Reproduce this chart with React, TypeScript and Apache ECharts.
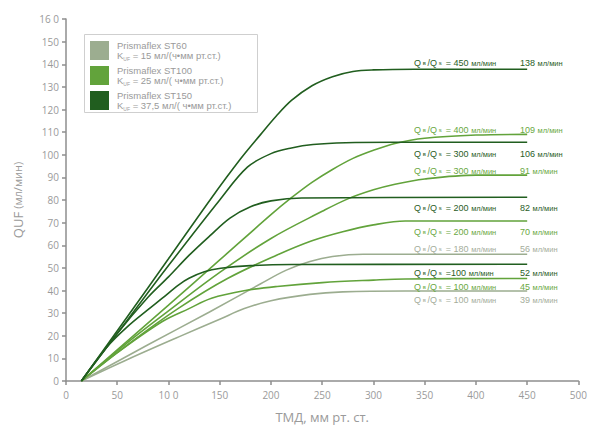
import React, { useEffect, useRef } from 'react';
import * as echarts from 'echarts';

// ---- data ----
const modelNames = ['Prismaflex ST60', 'Prismaflex ST100', 'Prismaflex ST150'];
const kufTexts = ['15 мл/(ч•мм рт.ст.)', '25 мл/( ч•мм рт.ст.)', '37,5 мл/( ч•мм рт.ст.)'];

const xTickLabels = ['0', '50', '10 0', '150', '200', '250', '300', '350', '400', '450', '500'];
const yTickLabels = ['0', '10', '20', '30', '40', '50', '60', '70', '80', '90', '100', '110', '120', '130', '140', '150', '16 0'];

// [TMD, QUF]
const st150_450 = [[15, 0], [60, 28.5], [100, 54], [141.6, 80.7], [170, 98], [190, 109], [205, 117], [220, 124], [240, 130.5], [260, 134.5], [280, 136.8], [300, 137.5], [340, 137.8], [450, 137.8]];
const st150_300 = [[15, 0], [60, 27], [100, 51], [150, 80], [177, 94.5], [200, 100.5], [220, 103], [241, 104.5], [273, 105.3], [320, 105.5], [450, 105.5]];
const st150_200 = [[15, 0], [50, 21], [80, 37], [100, 46], [120, 55.5], [140, 64], [160, 72], [180, 77], [200, 79.6], [230, 80.9], [450, 81.2]];
const st150_100 = [[15, 0], [40, 15], [60, 24], [80, 31.5], [94, 36.6], [110, 42.5], [120, 45.4], [135, 48.3], [151, 49.8], [180, 51], [220, 51.5], [450, 51.6]];
const st100_400 = [[15, 0], [100, 33.5], [150, 53.5], [200, 73.5], [220, 81], [240, 87.8], [260, 93.5], [280, 98.4], [300, 102], [321, 105], [350, 107.3], [400, 108.7], [450, 109]];
const st100_300 = [[15, 0], [60, 17], [100, 31], [150, 48], [200, 63], [250, 75], [275, 80.5], [300, 84.5], [321, 87], [350, 89.3], [400, 91], [450, 91]];
const st100_200 = [[15, 0], [60, 16], [110, 32.2], [158, 45.4], [206, 55.7], [240, 62], [270, 66], [300, 69], [331, 70.7], [450, 70.7]];
const st100_100 = [[15, 0], [50, 12.5], [94, 26.3], [120, 32], [142, 36.6], [175, 40], [206, 41.8], [250, 43.5], [300, 44.6], [331, 45.1], [450, 45.3]];
const st60_180 = [[15, 0], [80, 16], [140, 30.5], [190, 43], [215, 49], [238, 52.8], [260, 55], [290, 56], [450, 56]];
const st60_100 = [[15, 0], [60, 9.5], [110, 19.5], [150, 27.3], [174, 32], [200, 35.5], [238, 38.3], [270, 39.4], [331, 39.8], [450, 39.8]];

const curves = [st60_180, st60_100, st100_400, st100_300, st100_200, st100_100, st150_450, st150_300, st150_200, st150_100];
const curveModel = [0, 0, 1, 1, 1, 1, 2, 2, 2, 2];

// annotation labels (flow rate and plateau value)
const qbLabels = ['= 450', '= 400', '= 300', '= 300', '= 200', '= 200', '= 180', '=100', '= 100', '= 100'];
const plateauLabels = ['138', '109', '106', '91', '82', '70', '56', '52', '45', '39'];
const labelModel = [2, 1, 2, 1, 2, 1, 0, 2, 1, 0];

// ---- styles / layout ----
const lineColors = ['#9cad90', '#62a33b', '#215e1f'];
const labelColors = ['#a4ad9b', '#6aa843', '#2a5d27'];
const labelY = [63, 130, 154, 171, 208, 232, 249, 273, 287, 300];
const labelLeftX = 414;
const valueLeftX = 520;
const FONT = 'Liberation Sans, Arial, sans-serif';
const AXIS_FONT = 'Open Sans, Liberation Sans, sans-serif';

function buildOption() {
  const series = curves.map((d, i) => ({
    name: modelNames[curveModel[i]],
    type: 'line',
    data: d,
    smooth: 0.35,
    showSymbol: false,
    symbol: 'none',
    lineStyle: { width: 1.6, color: lineColors[curveModel[i]] },
    itemStyle: { color: lineColors[curveModel[i]] },
    z: 2 + curveModel[i],
  }));

  const graphics: any[] = [
    {
      type: 'rect',
      shape: { x: 84.5, y: 34.5, width: 173, height: 78 },
      style: { fill: '#fff', stroke: '#cfcfcf', lineWidth: 1 },
      z: 0,
    },
  ];

  qbLabels.forEach((q, i) => {
    const c = labelColors[labelModel[i]];
    const rich = {
      q: { fontFamily: FONT, fontSize: 9, fill: c },
      s: { fontFamily: FONT, fontSize: 6, fill: c },
      n: { fontFamily: FONT, fontSize: 9, fill: c },
      u: { fontFamily: FONT, fontSize: 7.5, fill: c },
    };
    graphics.push({
      type: 'text',
      x: labelLeftX,
      y: labelY[i],
      z: 10,
      style: {
        text: `{q|Q}{s| в }{q|/Q}{s| s }{n| ${q} }{u|мл/мин}`,
        rich,
        verticalAlign: 'middle',
        align: 'left',
      },
    });
    graphics.push({
      type: 'text',
      x: valueLeftX,
      y: labelY[i],
      z: 10,
      style: {
        text: `{n|${plateauLabels[i]} }{u|мл/мин}`,
        rich,
        verticalAlign: 'middle',
        align: 'left',
      },
    });
  });

  return {
    animation: false,
    backgroundColor: '#ffffff',
    grid: { left: 66, right: 4, top: 19, bottom: 45, containLabel: false },
    legend: {
      data: modelNames,
      orient: 'vertical',
      left: 90,
      top: 40,
      itemWidth: 19,
      itemHeight: 19,
      itemGap: 4,
      padding: 0,
      icon: 'rect',
      z: 5,
      formatter: (name: string) => {
        const i = modelNames.indexOf(name);
        return `{t|${name}}\n{k|K}{s|UF}{t| = ${kufTexts[i]}}`;
      },
      textStyle: {
        color: '#9a9a9a',
        fontFamily: FONT,
        fontSize: 9.5,
        lineHeight: 10.5,
        padding: [0, 0, 0, 3],
        rich: {
          t: { color: '#9a9a9a', fontFamily: FONT, fontSize: 9.5, lineHeight: 10.5 },
          k: { color: '#9a9a9a', fontFamily: FONT, fontSize: 9.5, lineHeight: 10.5 },
          s: { color: '#9a9a9a', fontFamily: FONT, fontSize: 5, lineHeight: 10.5, verticalAlign: 'bottom', padding: [4, 0, 0, 0] },
        },
      },
    },
    xAxis: {
      type: 'value',
      min: 0,
      max: 500,
      interval: 50,
      name: 'ТМД, мм рт. ст.',
      nameLocation: 'middle',
      nameGap: 29,
      nameTextStyle: { color: '#9a9a9a', fontSize: 13, fontFamily: AXIS_FONT },
      axisLine: { show: true, onZero: false, lineStyle: { color: '#8e8e8e', width: 1.5 } },
      axisTick: { show: true, inside: false, length: 4, lineStyle: { color: '#8e8e8e', width: 1.5 } },
      axisLabel: {
        color: '#9a9a9a',
        fontSize: 10,
        fontFamily: AXIS_FONT,
        margin: 9,
        formatter: (v: number) => xTickLabels[Math.round(v / 50)],
      },
      splitLine: { show: false },
    },
    yAxis: {
      type: 'value',
      min: 0,
      max: 160,
      interval: 10,
      name: '{a|QUF} {b|(мл/мин)}',
      nameLocation: 'middle',
      nameGap: 42,
      nameRotate: 90,
      nameTextStyle: {
        color: '#9a9a9a',
        fontFamily: AXIS_FONT,
        rich: {
          a: { color: '#9a9a9a', fontSize: 13, fontFamily: AXIS_FONT },
          b: { color: '#9a9a9a', fontSize: 11, fontFamily: AXIS_FONT },
        },
      },
      axisLine: { show: true, onZero: false, lineStyle: { color: '#8e8e8e', width: 1.5 } },
      axisTick: { show: true, inside: false, length: 4, lineStyle: { color: '#8e8e8e', width: 1.5 } },
      axisLabel: {
        color: '#9a9a9a',
        fontSize: 10,
        fontFamily: AXIS_FONT,
        margin: 7,
        formatter: (v: number) => yTickLabels[Math.round(v / 10)],
      },
      splitLine: { show: false },
    },
    graphic: graphics,
    series,
  };
}

export default function App() {
  const ref = useRef<HTMLDivElement>(null);
  useEffect(() => {
    if (!ref.current) return;
    const chart = echarts.init(ref.current, null, { renderer: 'svg' });
    chart.setOption(buildOption() as any);
    return () => chart.dispose();
  }, []);
  return (
    <div
      ref={ref}
      style={{ position: 'absolute', left: 0, top: 0, width: 590, height: 428, background: '#fff' }}
    />
  );
}
